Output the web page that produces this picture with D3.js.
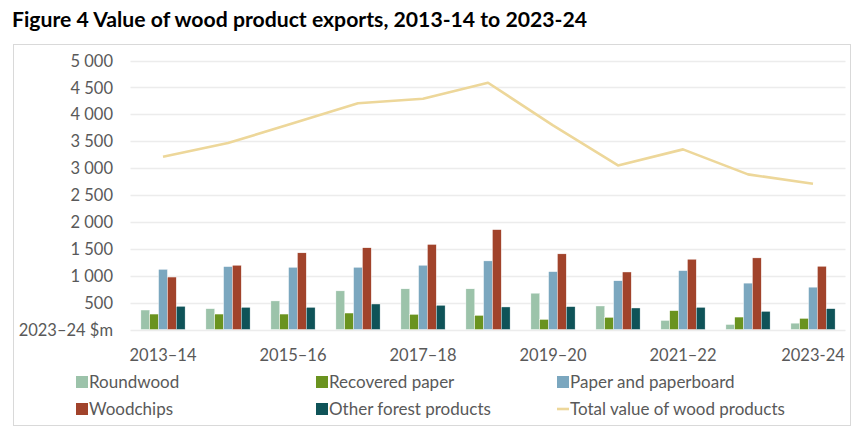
<!DOCTYPE html>
<html><head><meta charset="utf-8">
<script src="https://cdn.jsdelivr.net/npm/d3@7"></script>
<style>body{margin:0;background:#fff;} svg text{font-family:Lato, "Open Sans", sans-serif;}</style>
</head><body><svg id="c" width="865" height="437"></svg>
<script>
const categories = ["2013–14","2014–15","2015–16","2016–17","2017–18","2018–19","2019–20","2020–21","2021–22","2022–23","2023-24"];
const roundwood = [362,387,531,718,756,756,675,437,168,93,118];
const recoveredPaper = [287,287,287,306,281,262,187,225,350,231,206];
const paperAndPaperboard = [1118,1169,1156,1156,1194,1275,1075,906,1094,862,787];
const woodchips = [975,1194,1425,1519,1581,1856,1406,1069,1306,1331,1175];
const otherForestProducts = [431,412,412,474,450,419,425,400,412,337,387];
const totalValue = [3211,3466,3832,4204,4290,4587,3795,3050,3348,2883,2709];
const yTicks = [0,500,1000,1500,2000,2500,3000,3500,4000,4500,5000];
const yUnitLabel = "2023–24 $m";
const seriesNames = ["Roundwood","Recovered paper","Paper and paperboard","Woodchips","Other forest products"];
const lineName = "Total value of wood products";
const titleText = "Figure 4 Value of wood product exports, 2013-14 to 2023-24";

const seriesValues = [roundwood, recoveredPaper, paperAndPaperboard, woodchips, otherForestProducts];
const colors = ["#9cc3aa","#6a931f","#7ba7bf","#a1432b","#0f5358"];
const lineColor = "#edd79a";

const svg = d3.select("#c");
const m = {left:130.5, right:845.5, top:60.5, bottom:329.5};

// outer chart border
svg.append("rect").attr("x",13.5).attr("y",44.5).attr("width",837).attr("height",381)
  .attr("fill","none").attr("stroke","#d9d9d9").attr("stroke-width",1);

svg.append("text").attr("x",12).attr("y",27).attr("font-size",21.2).attr("font-weight",700)
  .attr("fill","#000").text(titleText);

const x0 = d3.scaleBand().domain(categories).range([m.left, m.right]).padding(0);
const bw = x0.bandwidth();
const x1 = d3.scaleBand().domain(seriesNames).range([bw*0.16, bw*0.84]).padding(0);
const y = d3.scaleLinear().domain([0,5000]).range([m.bottom, m.top]);

// gridlines
svg.append("g").selectAll("line").data(yTicks).join("line")
  .attr("x1",m.left).attr("x2",m.right)
  .attr("y1",d=>Math.round(y(d))+0.5).attr("y2",d=>Math.round(y(d))+0.5)
  .attr("stroke","#ececec").attr("stroke-width",1.3);

// y axis labels
const yAxis = d3.axisLeft(y).tickValues(yTicks).tickSize(0).tickPadding(0)
  .tickFormat(d => d===0 ? yUnitLabel : d3.format(",")(d).replace(/,/g," "));
const gy = svg.append("g").attr("transform",`translate(113,0)`).call(yAxis);
gy.select(".domain").remove();
gy.selectAll("text").attr("font-size",16.5).attr("fill","#595959").attr("dy","0.34em");

// bars
const groups = svg.append("g").selectAll("g").data(categories).join("g")
  .attr("transform",c=>`translate(${x0(c)},0)`);
groups.selectAll("rect").data((c,i)=>seriesNames.map((s,j)=>({s, v:seriesValues[j][i], j})))
  .join("rect")
  .attr("x",d=>x1(d.s)).attr("width",x1.bandwidth())
  .attr("y",d=>y(d.v)).attr("height",d=>y(0)-y(d.v))
  .attr("fill",d=>colors[d.j]).attr("stroke","#fff").attr("stroke-width",0.4);

// line
const line = d3.line().x((d,i)=>x0(categories[i])+bw/2).y(d=>y(d));
svg.append("path").datum(totalValue).attr("d",line)
  .attr("fill","none").attr("stroke",lineColor).attr("stroke-width",2.6).attr("stroke-linejoin","round");

// x axis labels (every other)
const xAxis = d3.axisBottom(x0).tickSize(0).tickPadding(0)
  .tickValues(categories.filter((c,i)=>i%2===0));
const gx = svg.append("g").attr("transform",`translate(0,355)`).call(xAxis);
gx.select(".domain").remove();
gx.selectAll("text").attr("font-size",16.5).attr("fill","#595959").attr("dy","0.34em");

// legend
const legendItems = seriesNames.map((s,j)=>({name:s, color:colors[j], type:"rect"}))
  .concat([{name:lineName, color:lineColor, type:"line"}]);
const colX = [76, 316, 557], rowY = [382, 409];
const lg = svg.append("g").selectAll("g").data(legendItems).join("g")
  .attr("transform",(d,i)=>`translate(${colX[i%3]},${rowY[Math.floor(i/3)]})`);
lg.each(function(d){
  const g = d3.select(this);
  if(d.type==="rect") g.append("rect").attr("x",0).attr("y",-6).attr("width",12).attr("height",12).attr("fill",d.color);
  else g.append("line").attr("x1",0).attr("x2",12).attr("y1",0).attr("y2",0).attr("stroke",d.color).attr("stroke-width",2.6);
  g.append("text").attr("x",13).attr("y",0).attr("dy","0.35em").attr("font-size",17).attr("fill","#595959").text(d.name);
});
</script></body></html>
